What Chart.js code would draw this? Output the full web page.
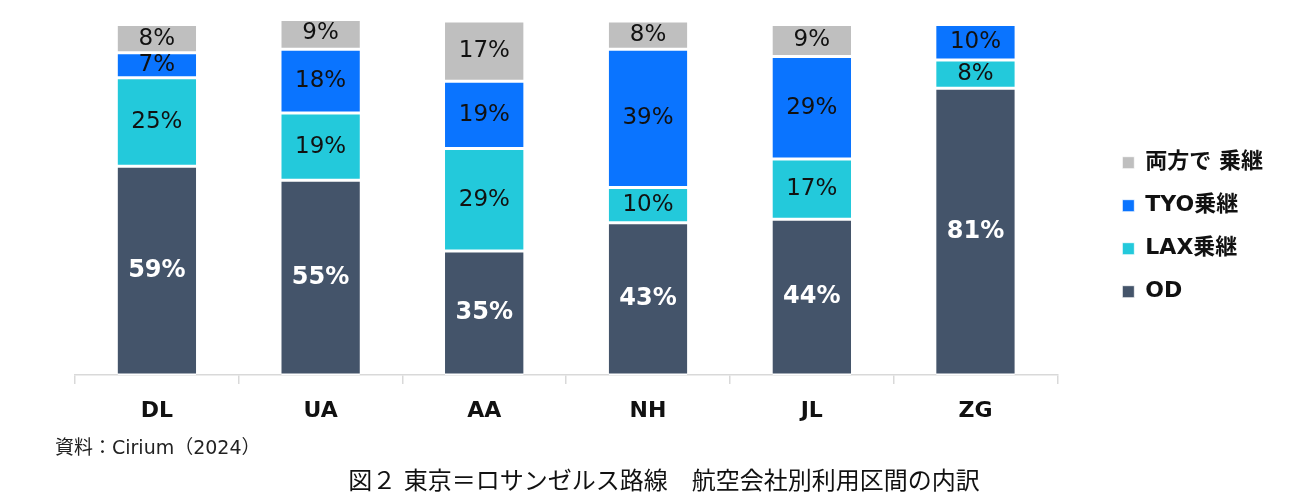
<!DOCTYPE html>
<html lang="ja">
<head>
<meta charset="utf-8">
<script src="https://cdn.jsdelivr.net/npm/chart.js@4.4.1/dist/chart.umd.min.js"></script>
<style>
  html, body { margin: 0; padding: 0; background: #fff; }
  #wrap { width: 1313px; height: 504px; position: relative; }
</style>
</head>
<body>
<div id="wrap"><canvas id="chart"></canvas></div>
<script>
// 東京＝ロサンゼルス路線 航空会社別利用区間の内訳 (%)
const categories = ["DL", "UA", "AA", "NH", "JL", "ZG"];
const odShare = [59, 55, 35, 43, 44, 81];
const laxShare = [25, 19, 29, 10, 17, 8];
const tyoShare = [7, 18, 19, 39, 29, 10];
const bothShare = [8, 9, 17, 8, 9, null];

const seriesNames = ["OD", "LAX乗継", "TYO乗継", "両方で 乗継"];
const seriesColors = ["#44546A", "#23C9DB", "#0A74FF", "#BFBFBF"];

const FONT = '"DejaVu Sans", "Noto Sans CJK JP", sans-serif';

// draws the % labels in the middle of each segment
const segmentLabels = {
  id: "segmentLabels",
  afterDatasetsDraw(chart) {
    const ctx = chart.ctx;
    ctx.save();
    ctx.textAlign = "center";
    ctx.textBaseline = "middle";
    chart.data.datasets.forEach((ds, di) => {
      const meta = chart.getDatasetMeta(di);
      meta.data.forEach((bar, i) => {
        const v = ds.data[i];
        if (v == null) return;
        const isOD = di === 0;
        ctx.fillStyle = isOD ? "#fff" : "#111";
        ctx.font = (isOD ? "bold 24px " : "23px ") + FONT;
        ctx.fillText(v + "%", bar.x, (bar.y + bar.base) / 2);
      });
    });
    ctx.restore();
  },
};

const seriesData = [odShare, laxShare, tyoShare, bothShare];

new Chart(document.getElementById("chart"), {
  type: "bar",
  data: {
    labels: categories,
    datasets: seriesData.map((d, i) => ({
      label: seriesNames[i],
      data: d,
      backgroundColor: seriesColors[i],
      borderColor: "#fff",
      borderWidth: { top: 1.5, bottom: 1.5, left: 0, right: 0 },
      borderSkipped: false,
      categoryPercentage: 1,
      barPercentage: 0.48,
    })),
  },
  options: {
    animation: false,
    responsive: true,
    maintainAspectRatio: false,
    layout: { padding: { left: 55, top: 21, right: 40, bottom: 7 } },
    scales: {
      x: {
        stacked: true,
        grid: {
          display: true,
          drawOnChartArea: false,
          offset: true,
          tickLength: 9,
          color: "#D9D9D9",
          lineWidth: 1.5,
        },
        border: { display: true, color: "#D9D9D9", width: 1.5 },
        ticks: {
          color: "#111",
          padding: 21,
          font: { family: FONT, size: 22, weight: "bold", lineHeight: 0.6 },
        },
      },
      y: {
        stacked: true,
        min: 0,
        max: 100,
        grid: { display: false },
        border: { display: false },
        ticks: { display: false },
        afterFit: (s) => { s.width = 20; },
      },
      y2: {
        position: "right",
        grid: { display: false },
        border: { display: false },
        ticks: { display: false },
        afterFit: (s) => { s.width = 44; },
      },
    },
    plugins: {
      legend: {
        position: "right",
        fullSize: false,
        reverse: true,
        title: { display: true, text: " ", font: { size: 12 }, padding: { top: 19, bottom: 25 } },
        labels: {
          boxWidth: 12,
          boxHeight: 12,
          padding: 21,
          color: "#111",
          font: { family: FONT, size: 22, weight: "bold" },
        },
      },
      title: {
        display: true,
        position: "bottom",
        text: "図２ 東京＝ロサンゼルス路線　航空会社別利用区間の内訳",
        color: "#111",
        font: { family: FONT, size: 24, weight: "normal" },
        padding: { top: 3, bottom: 0 },
      },
      subtitle: {
        display: true,
        position: "bottom",
        align: "start",
        text: "資料：Cirium（2024）",
        color: "#222",
        font: { family: FONT, size: 19, weight: "normal", lineHeight: 1 },
        padding: { top: 0, bottom: 7 },
      },
      tooltip: { enabled: false },
    },
  },
  plugins: [segmentLabels],
});
</script>
</body>
</html>
